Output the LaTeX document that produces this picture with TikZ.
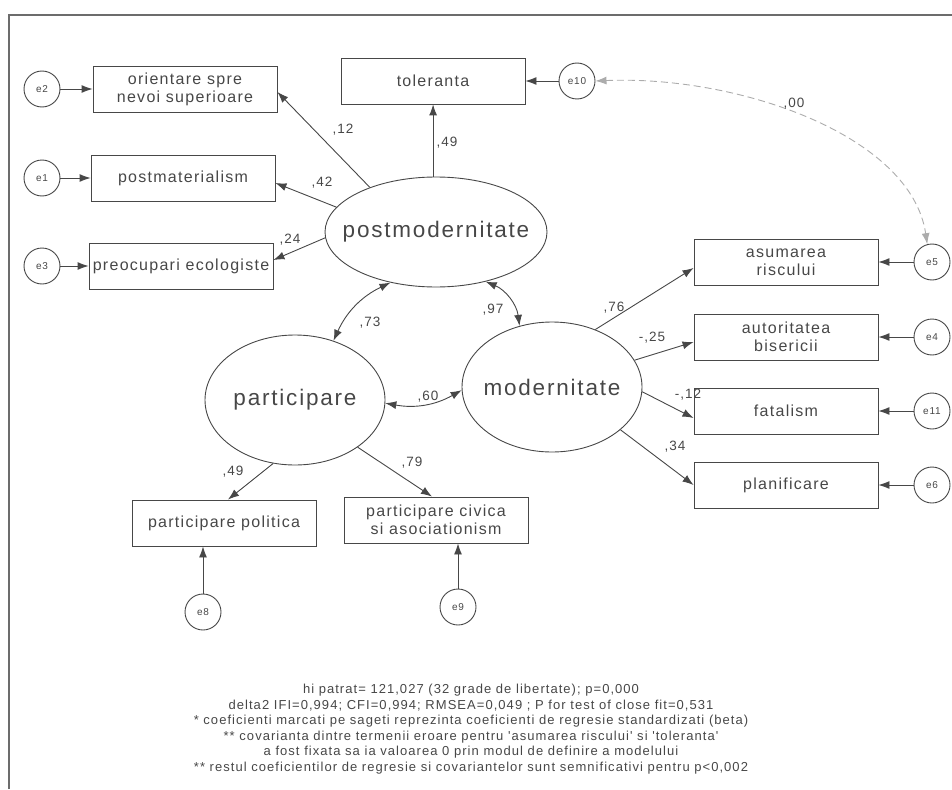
\documentclass[tikz,border=0pt]{standalone}
\usepackage{fontspec}
\setmainfont{Liberation Sans}
\newfontfamily\spacedfont[LetterSpace=8]{Liberation Sans}
\usepackage{tikz}
\usetikzlibrary{arrows.meta,shapes,calc,positioning}
\definecolor{ink}{gray}{0.28}
\tikzset{
  obs/.style={draw=ink, line width=0.9pt, minimum width=184pt, minimum height=46pt, inner sep=0pt,
    align=center, text=ink, font=\spacedfont\fontsize{16}{18}\selectfont},
  lat/.style={draw=ink, line width=0.9pt, ellipse, inner sep=0pt,
    label={[text=ink, font=\spacedfont\fontsize{22.5}{24}\selectfont]center:#1}},
  err/.style={draw=ink, line width=0.9pt, circle, minimum size=36pt, inner sep=0pt, text=ink,
    font=\spacedfont\fontsize{10}{11}\selectfont},
  load/.style={draw=ink, line width=0.9pt, -{Latex[length=11pt,width=8pt]}},
  cov/.style={draw=ink, line width=0.9pt, {Latex[length=11pt,width=8pt]}-{Latex[length=11pt,width=8pt]}},
  coef/.style={text=ink, inner sep=0pt, font=\spacedfont\fontsize{13.5}{14}\selectfont},
}
\begin{document}
\begin{tikzpicture}[x=1pt,y=-1pt]
  \useasboundingbox (0,0) rectangle (952,789);
  \coordinate (fbl) at (9,789);
  \coordinate (ftl) at (9,15);
  \coordinate (ftr) at (952,15);
  \draw[ink!80, line width=1.4pt] (fbl) -- (ftl) -- (ftr);

  % latent variables
  \node[lat=postmodernitate, minimum width=222pt, minimum height=110pt] (postmod) at (436,232) {};
  \node[lat=participare, minimum width=180pt, minimum height=130pt] (partic) at (295,400) {};
  \node[lat=modernitate, minimum width=180pt, minimum height=130pt] (modern) at (552,387) {};

  % observed variables
  \node[obs] (orient) at (185,89) {orientare spre\\nevoi superioare};
  \node[obs] (postmat) at (183,178) {postmaterialism};
  \node[obs] (preoc) at (181,266) {preocupari ecologiste};
  \node[obs] (toler) at (433,81) {toleranta};
  \node[obs] (asum) at (786,262) {asumarea\\riscului};
  \node[obs] (autor) at (786,337) {autoritatea\\bisericii};
  \node[obs] (fatal) at (786,411) {fatalism};
  \node[obs] (planif) at (786,485) {planificare};
  \node[obs] (politic) at (224,523) {participare politica};
  \node[obs] (civic) at (436,520) {participare civica\\si asociationism};

  % error terms
  \node[err] (e2) at (42,89) {e2};
  \node[err] (e1) at (42,178) {e1};
  \node[err] (e3) at (42,266) {e3};
  \node[err] (e10) at (577,81) {e10};
  \node[err] (e5) at (932,262) {e5};
  \node[err] (e4) at (932,337) {e4};
  \node[err] (e11) at (932,411) {e11};
  \node[err] (e6) at (932,485) {e6};
  \node[err] (e8) at (203,612) {e8};
  \node[err] (e9) at (458,607) {e9};

  \draw[load] (e2) -- (orient);
  \draw[load] (e1) -- (postmat);
  \draw[load] (e3) -- (preoc);
  \draw[load] (e10) -- (toler);
  \draw[load] (e5) -- (asum);
  \draw[load] (e4) -- (autor);
  \draw[load] (e11) -- (fatal);
  \draw[load] (e6) -- (planif);
  \draw[load] (e8) -- (e8 |- politic.south);
  \draw[load] (e9) -- (e9 |- civic.south);

  % loadings
  \draw[load] (postmod.146) -- ([yshift=-3]orient.east);
  \draw[load] (postmod.166) -- ([yshift=-5]postmat.east);
  \draw[load] (postmod.183) -- ([yshift=6]preoc.east);
  \draw[load] (postmod.93) -- (postmod.93 |- toler.south);
  \draw[load] (modern.53) -- ([yshift=-6]asum.west);
  \draw[load] (modern.18) -- ([yshift=-5]autor.west);
  \draw[load] (modern.-3) -- ([yshift=-7]fatal.west);
  \draw[load] (modern.-32) -- (planif.west);
  \draw[load] (partic.251) -- ([xshift=4]politic.north);
  \draw[load] (partic.-37) -- ([xshift=-4]civic.north);

  % covariances
  \draw[cov] (postmod.228) to[bend right=20] (partic.57);
  \draw[cov] (postmod.-45) to[bend left=30] (modern.118);
  \draw[cov] (partic.-2) to[bend right=20] (modern.182);
  \draw[cov, draw=ink!45, dash pattern=on 7pt off 4pt] (e10.east) .. controls +(142,-6) and +(-16,-109) .. (e5.105);

  \node[coef] (c12) at (343,130) {,12};
  \node[coef] (c49a) at (447,143) {,49};
  \node[coef] (c42) at (322,183) {,42};
  \node[coef] (c24) at (290,240) {,24};
  \node[coef] (c73) at (370,323) {,73};
  \node[coef] (c97) at (493,310) {,97};
  \node[coef] (c60) at (428,397) {,60};
  \node[coef] (c76) at (614,308) {,76};
  \node[coef] (c25) at (652,338) {-,25};
  \node[coef] (c12b) at (688,395) {-,12};
  \node[coef] (c34) at (675,447) {,34};
  \node[coef] (c49b) at (233,472) {,49};
  \node[coef] (c79) at (412,463) {,79};
  \node[coef] (c00) at (794,104) {,00};

  \node[text=ink, align=center, inner sep=0pt, font=\spacedfont\fontsize{13}{15.5}\selectfont] (notes) at (471,729)
    {hi patrat= 121,027 (32 grade de libertate); p=0,000\\
     delta2 IFI=0,994; CFI=0,994; RMSEA=0,049 ; P for test of close fit=0,531\\
     * coeficienti marcati pe sageti reprezinta coeficienti de regresie standardizati (beta)\\
     ** covarianta dintre termenii eroare pentru 'asumarea riscului' si 'toleranta'\\
     a fost fixata sa ia valoarea 0 prin modul de definire a modelului\\
     ** restul coeficientilor de regresie si covariantelor sunt semnificativi pentru p<0,002};
\end{tikzpicture}
\end{document}
